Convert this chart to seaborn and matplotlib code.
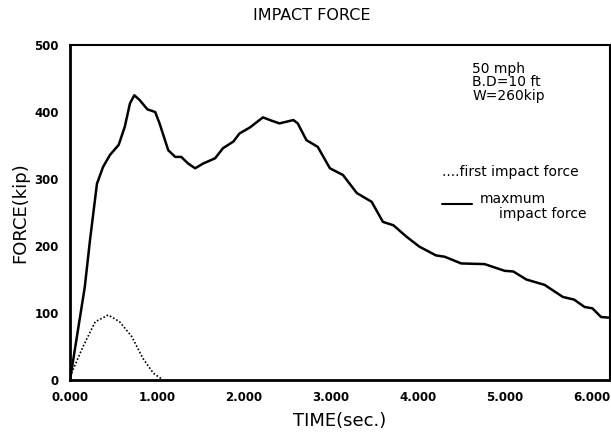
import numpy as np
import pandas as pd
import matplotlib
matplotlib.use("Agg")
import matplotlib.pyplot as plt
import seaborn as sns

# curva de fuerza maxima
t_max = [0.0, 0.17, 0.23, 0.31, 0.38, 0.46, 0.56, 0.63, 0.69, 0.74, 0.80, 0.89, 0.98,
         1.03, 1.13, 1.21, 1.28, 1.36, 1.44, 1.53, 1.67, 1.76, 1.88, 1.95, 2.07, 2.22,
         2.32, 2.41, 2.57, 2.62, 2.72, 2.85, 2.99, 3.14, 3.30, 3.47, 3.60, 3.72, 3.87,
         4.02, 4.21, 4.31, 4.50, 4.77, 5.00, 5.10, 5.25, 5.46, 5.67, 5.80, 5.92, 6.01,
         6.11, 6.21]
f_max = [0, 139, 209, 293, 318, 336, 351, 378, 413, 425, 418, 404, 400,
         383, 343, 333, 333, 323, 316, 323, 331, 346, 356, 368, 377, 392,
         387, 383, 388, 383, 358, 348, 316, 306, 279, 266, 236, 231, 214,
         199, 186, 184, 174, 173, 163, 162, 150, 142, 124, 120, 109, 107,
         94, 93]

# primer impacto (punteada)
t_first = [0.0, 0.15, 0.29, 0.44, 0.57, 0.71, 0.84, 0.96, 1.05]
f_first = [5, 50, 87, 97, 87, 65, 32, 10, 2]

x_ticks = [0, 1, 2, 3, 4, 5, 6]
x_labels = ["0.000", "1.000", "2.000", "3.000", "4.000", "5.000", "6.000"]
y_ticks = [0, 100, 200, 300, 400, 500]

sns.set_style("white")
plt.rcParams["font.family"] = ["DejaVu Sans"]
plt.rcParams["text.color"] = "black"
plt.rcParams["axes.labelcolor"] = "black"

fig = plt.figure(figsize=(6.11, 4.37), dpi=100)
ax = fig.add_axes([0.1146, 0.1304, 0.8834, 0.7666])

df_max = pd.DataFrame({"t": t_max, "f": f_max})
df_first = pd.DataFrame({"t": t_first, "f": f_first})
sns.lineplot(data=df_max, x="t", y="f", ax=ax, color="black", linewidth=1.8)
sns.lineplot(data=df_first, x="t", y="f", ax=ax, color="black", linewidth=1.2,
             linestyle=(0, (1, 1.2)))

ax.set_xlim(0, 6.21)
ax.set_ylim(0, 500)
ax.set_xticks(x_ticks)
ax.set_xticklabels(x_labels)
ax.set_yticks(y_ticks)
ax.tick_params(direction="inout", length=9, width=1.5, labelsize=8.5, colors="black")
for lab in ax.get_xticklabels() + ax.get_yticklabels():
    lab.set_fontweight("bold")

ax.spines["left"].set_linewidth(2)
ax.spines["bottom"].set_linewidth(2)
ax.spines["top"].set_linewidth(1.5)
ax.spines["right"].set_linewidth(1.5)
for s in ax.spines.values():
    s.set_color("black")

ax.set_xlabel("TIME(sec.)", fontsize=13, labelpad=6)
ax.set_ylabel("FORCE(kip)", fontsize=13, labelpad=4)
fig.text(0.51, 0.965, "IMPACT FORCE", ha="center", va="center", fontsize=11.5)

ax.text(0.745, 0.95, "50 mph\nB.D=10 ft\nW=260kip", transform=ax.transAxes,
        fontsize=10, va="top", ha="left", linespacing=0.95)
ax.text(0.69, 0.62, "....first impact force", transform=ax.transAxes,
        fontsize=10, va="center", ha="left")
ax.plot([0.69, 0.745], [0.525, 0.525], transform=ax.transAxes, color="black", linewidth=1.5)
ax.text(0.76, 0.54, "maxmum", transform=ax.transAxes, fontsize=10, va="center", ha="left")
ax.text(0.795, 0.495, "impact force", transform=ax.transAxes, fontsize=10, va="center", ha="left")

fig.savefig("out.png", dpi=100)
